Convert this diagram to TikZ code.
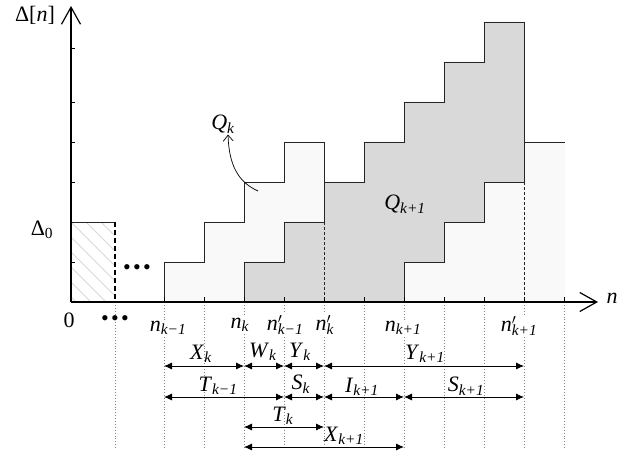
\documentclass[tikz,border=0pt]{standalone}
\usepackage{fontspec}
\setmainfont{Liberation Serif}
\usetikzlibrary{arrows.meta}
\definecolor{darkfill}{HTML}{D9D9D9}
\definecolor{lightfill}{HTML}{F9F9F9}
\newcommand{\lbl}[2]{\textit{#1}\textsubscript{\textit{#2}}}
\newcommand{\lblp}[2]{\textit{#1}\rlap{$^{\prime}$}\textsubscript{\textit{#2}}}
\newcommand{\threedots}{•\kern2.2pt•\kern2.2pt•}
\tikzset{
  axisline/.style={line width=1.4pt,-{Straight Barb[length=17pt,width=19pt,line width=1.2pt]}},
  stair/.style={draw=black!85,line width=0.9pt},
  thindash/.style={line width=0.7pt,dash pattern=on 3pt off 2pt},
  dimline/.style={line width=0.8pt,{Latex[length=8pt,width=7pt]}-{Latex[length=8pt,width=7pt]}},
  griddots/.style={gray,dotted,line width=0.9pt},
  ticklab/.style={fill=white,inner sep=1pt},
  dimlab/.style={inner sep=0pt}
}

\begin{document}
\begin{tikzpicture}[x=1pt,y=-1pt,font=\fontsize{22}{24}\selectfont]
\useasboundingbox (0,0) rectangle (640,454);

% shaded areas
\fill[lightfill] (164,302) -- (164,262) -- (204,262) -- (204,222) -- (244,222) -- (244,182)
  -- (284,182) -- (284,142) -- (324,142) -- (324,182) -- (364,182) -- (364,142) -- (404,142)
  -- (404,102) -- (444,102) -- (444,62) -- (484,62) -- (484,22) -- (524,22) -- (524,142)
  -- (565,142) -- (565,302) -- cycle;
\fill[darkfill] (244,302) -- (244,262) -- (284,262) -- (284,222) -- (324,222) -- (324,182)
  -- (364,182) -- (364,142) -- (404,142) -- (404,102) -- (444,102) -- (444,62) -- (484,62)
  -- (484,22) -- (524,22) -- (524,182) -- (484,182) -- (484,222) -- (444,222) -- (444,262)
  -- (404,262) -- (404,302) -- cycle;
\begin{scope}
\clip (71,222) rectangle (115,302);
\foreach \i in {-6,...,3}
  \draw[gray!30,line width=0.8pt] (71+\i*15,222) -- ++(90,90);
\end{scope}

% staircases
\draw[stair] (71,222) -- (115,222);
\draw[line width=1.2pt,dash pattern=on 5pt off 3pt] (115,222) -- (115,302);
\draw[stair] (164,302) |- (204,262) |- (244,222) |- (284,182) |- (324,142) -- (324,222);
\draw[stair,thindash] (324,222) -- (324,302);
\draw[stair] (244,302) |- (284,262) |- (324,222) |- (364,182) |- (404,142) |- (444,102)
  |- (484,62) |- (524,22) -- (524,182);
\draw[stair] (404,302) |- (444,262) |- (484,222) |- (524,182);
\draw[stair,thindash] (524,182) -- (524,302);
\draw[stair] (524,142) -- (565,142);

% ticks
\foreach \x in {164,204,...,564}
  \draw[line width=0.9pt] (\x,302) -- (\x,297);
\foreach \y in {48,102,142,182,262}
  \draw[line width=0.9pt] (71,\y) -- (75,\y);

% axes
\coordinate (o) at (71,302);
\coordinate (ytop) at (71,6);
\coordinate (xend) at (598,302);
\draw[axisline] (o) -- (ytop);
\draw[axisline] (o) -- (xend);
\node (ylab) at (35,15) {Δ[\textit{n}]};
\node (xlab) at (612,298) {\textit{n}};
\node (d0) at (42,230) {Δ\textsubscript{0}};
\node (gap) at (137,270) {\threedots};

% dotted guides
\draw[griddots] (115,305) -- (115,448);
\foreach \x in {164,204,...,564}
  \draw[griddots] (\x,305) -- (\x,448);

% axis labels
\node[ticklab] (zero) at (69,320) {0};
\node (gapb) at (115,321) {\threedots};
\node[ticklab] (nkm) at (168,328) {\lbl{n}{k−1}};
\node[ticklab] (nk) at (240,325) {\lbl{n}{k}};
\node[ticklab] (npkm) at (285,325) {\lblp{n}{k−1}};
\node[ticklab] (npk) at (325,325) {\lblp{n}{k}};
\node[ticklab] (nkp) at (403,328) {\lbl{n}{k+1}};
\node[ticklab] (npkp) at (519,326) {\lblp{n}{k+1}};

% areas
\node (qk) at (223,124) {\lbl{Q}{k}};
\coordinate (qkfoot) at (258,191);
\draw[line width=0.7pt,-{Straight Barb[length=6pt,width=10pt]}] (qkfoot)
  .. controls (238,182) and (229,165) .. ([xshift=5pt,yshift=2pt]qk.south);
\node (qkp) at (405,204) {\lbl{Q}{k+1}};

% intervals
\foreach \i in {1,...,11}{
  \coordinate (a\i) at (124+40*\i,366);
  \coordinate (b\i) at (124+40*\i,397);
  \coordinate (c\i) at (124+40*\i,427);
  \coordinate (d\i) at (124+40*\i,447);
}
\draw[dimline] (a1) -- (a3);
\draw[dimline] (a3) -- (a4);
\draw[dimline] (a4) -- (a5);
\draw[dimline] (a5) -- (a10);
\draw[dimline] (b1) -- (b4);
\draw[dimline] (b4) -- (b5);
\draw[dimline] (b5) -- (b7);
\draw[dimline] (b7) -- (b10);
\draw[dimline] (c3) -- (c5);
\draw[dimline] (d3) -- (d7);
\node[dimlab] (xk) at (201,354) {\lbl{X}{k}};
\node[dimlab] (wk) at (263,352) {\lbl{W}{k}};
\node[dimlab] (yk) at (300,352) {\lbl{Y}{k}};
\node[dimlab] (ykp) at (425,354) {\lbl{Y}{k+1}};
\node[dimlab] (tkm) at (218,386) {\lbl{T}{k−1}};
\node[dimlab] (sk) at (301,384) {\lbl{S}{k}};
\node[dimlab] (ikp) at (362,387) {\lbl{I}{k+1}};
\node[dimlab] (skp) at (466,386) {\lbl{S}{k+1}};
\node[dimlab] (tk) at (283,416) {\lbl{T}{k}};
\node[dimlab] (xkp) at (344,436) {\lbl{X}{k+1}};
\end{tikzpicture}
\end{document}
